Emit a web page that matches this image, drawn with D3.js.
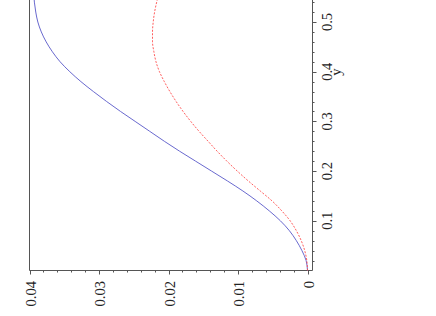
<!DOCTYPE html>
<html>
<head>
<meta charset="utf-8">
<script src="https://cdn.jsdelivr.net/npm/d3@7"></script>
<style>
  body { margin: 0; background: #fff; }
  text { font-family: "Liberation Serif", "DejaVu Serif", serif; font-size: 14.5px; fill: #222; }
</style>
</head>
<body>
<svg id="chart" width="436" height="316"></svg>
<script>
  // curve readings: y (the variable) and the plotted value
  var tGrid = [0, 0.02, 0.04, 0.06, 0.08, 0.10, 0.12, 0.14, 0.16, 0.18, 0.20, 0.22, 0.24, 0.26, 0.28, 0.30, 0.32, 0.34, 0.36, 0.38, 0.40, 0.42, 0.44, 0.46, 0.48, 0.50, 0.52, 0.54, 0.56];
  var blueV = [0, 0.0002, 0.0008, 0.0016, 0.0026, 0.0039, 0.0055, 0.0073, 0.0093, 0.0115, 0.0138, 0.0161, 0.0184, 0.0206, 0.0227, 0.0248, 0.0269, 0.0289, 0.0308, 0.0326, 0.0342, 0.0356, 0.0367, 0.0376, 0.0383, 0.0388, 0.0391, 0.0393, 0.0394];
  var redV = [0, 0.0001, 0.0004, 0.0009, 0.0016, 0.0025, 0.0037, 0.0051, 0.0068, 0.0085, 0.0101, 0.0116, 0.0130, 0.0143, 0.0156, 0.0168, 0.0179, 0.0189, 0.0198, 0.0206, 0.0213, 0.0218, 0.0221, 0.0223, 0.0223, 0.0222, 0.0220, 0.0217, 0.0213];

  var valueTicks = [0, 0.01, 0.02, 0.03, 0.04];
  var valueLabels = ["0", "0.01", "0.02", "0.03", "0.04"];
  var yTicks = [0.1, 0.2, 0.3, 0.4, 0.5];
  var yLabels = ["0.1", "0.2", "0.3", "0.4", "0.5"];
  var axisName = "y";

  var svg = d3.select("#chart");

  // plot is turned a quarter turn: values run right to left, y runs bottom to top
  var x = d3.scaleLinear().domain([0, 0.04]).range([307.5, 29.5]);
  var y = d3.scaleLinear().domain([0, 0.5]).range([270.5, 22]);

  var frameLeft = 29.5, frameRight = 312.5, frameBottom = 270.5;
  var frameColor = "#555";

  // frame
  svg.append("path")
    .attr("d", `M${frameLeft},-2 V${frameBottom} H${frameRight} V-2`)
    .attr("fill", "none")
    .attr("stroke", frameColor)
    .attr("stroke-width", 1);

  // bottom ticks (value axis)
  var vMinor = d3.range(0, 0.0401, 0.002);
  svg.append("g").selectAll("line")
    .data(vMinor)
    .join("line")
      .attr("x1", d => Math.round(x(d)) + 0.5)
      .attr("x2", d => Math.round(x(d)) + 0.5)
      .attr("y1", frameBottom)
      .attr("y2", (d, i) => frameBottom + (i % 5 == 0 ? 4 : 2))
      .attr("stroke", frameColor);

  svg.append("g").selectAll("text")
    .data(valueTicks)
    .join("text")
      .attr("transform", d => `translate(${Math.round(x(d)) + 0.5},281) rotate(-90)`)
      .attr("dy", "0.35em")
      .attr("text-anchor", "end")
      .text((d, i) => valueLabels[i]);

  // right ticks (y axis)
  var tMinor = d3.range(0.02, 0.561, 0.02);
  svg.append("g").selectAll("line")
    .data(tMinor)
    .join("line")
      .attr("x1", frameRight)
      .attr("x2", (d, i) => frameRight + ((i + 1) % 5 == 0 ? 4 : 2))
      .attr("y1", d => Math.round(y(d)) + 0.5)
      .attr("y2", d => Math.round(y(d)) + 0.5)
      .attr("stroke", frameColor);

  svg.append("g").selectAll("text")
    .data(yTicks)
    .join("text")
      .attr("transform", d => `translate(331.5,${y(d)}) rotate(-90)`)
      .attr("text-anchor", "middle")
      .text((d, i) => yLabels[i]);

  svg.append("text")
    .attr("transform", "translate(340.5,72) rotate(-90)")
    .attr("text-anchor", "middle")
    .text(axisName);

  // curves
  var line = d3.line()
    .x(d => x(d[1]))
    .y(d => y(d[0]))
    .curve(d3.curveMonotoneY);

  svg.append("path")
    .attr("d", line(tGrid.map((t, i) => [t, blueV[i]])))
    .attr("fill", "none")
    .attr("stroke", "#5858c8")
    .attr("stroke-width", 0.9);

  svg.append("path")
    .attr("d", line(tGrid.map((t, i) => [t, redV[i]])))
    .attr("fill", "none")
    .attr("stroke", "#ff4c4c")
    .attr("stroke-width", 0.9)
    .attr("stroke-dasharray", "2,1.5");
</script>
</body>
</html>
